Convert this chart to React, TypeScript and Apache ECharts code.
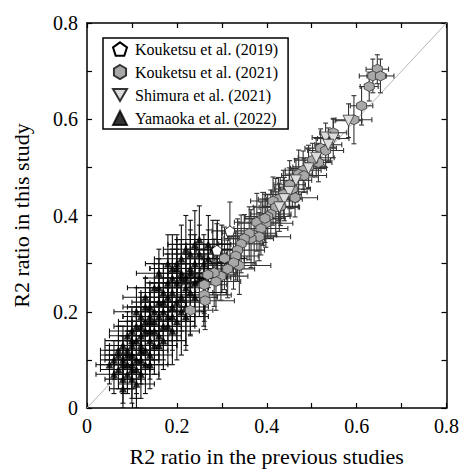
import React, { useEffect, useRef } from "react";
import * as echarts from "echarts";

// Yamaoka et al. (2022)
const yamX = [0.08,0.09,0.10,0.07,0.11,0.09,0.12,0.10,0.08,0.13,0.11,0.10,0.14,0.12,0.09,0.13,0.15,0.11,0.14,0.16,0.12,0.15,0.17,0.14,0.18,0.16,0.13,0.19,0.17,0.20,0.15,0.18,0.21,0.19,0.16,0.22,0.20,0.23,0.18,0.21,0.24,0.22,0.25,0.20,0.23,0.26,0.24,0.21,0.27,0.25,0.22,0.24,0.17,0.19,0.26,0.28,0.07,0.10,0.08,0.12,0.06,0.14,0.16,0.11,0.13,0.15,0.18,0.20,0.23,0.27,0.29,0.30,0.12,0.09,0.17,0.21,0.24,0.19,0.10,0.14,
  0.05,0.06,0.07,0.08,0.09,0.10,0.11,0.08,0.11,0.12,0.13,0.10,0.14,0.15,0.16,0.17,0.18,0.19,0.20,0.21,0.22,0.23,0.22,0.25,0.26,0.16,0.14,0.12,0.13,0.19];
const yamY = [0.10,0.07,0.09,0.11,0.08,0.12,0.10,0.06,0.13,0.12,0.14,0.11,0.09,0.15,0.15,0.16,0.13,0.17,0.18,0.15,0.19,0.20,0.17,0.21,0.19,0.22,0.23,0.21,0.24,0.18,0.25,0.26,0.23,0.27,0.28,0.25,0.29,0.28,0.30,0.31,0.30,0.33,0.32,0.30,0.32,0.30,0.34,0.28,0.31,0.35,0.21,0.26,0.14,0.16,0.27,0.33,0.08,0.13,0.06,0.07,0.10,0.11,0.19,0.20,0.18,0.16,0.23,0.26,0.29,0.34,0.33,0.31,0.12,0.09,0.20,0.27,0.23,0.24,0.16,0.14,
  0.09,0.07,0.12,0.09,0.11,0.08,0.10,0.04,0.05,0.13,0.09,0.14,0.16,0.18,0.13,0.22,0.17,0.19,0.22,0.20,0.27,0.24,0.19,0.27,0.24,0.25,0.19,0.17,0.21,0.29];
const yamXErr = [0.04,0.03,0.04,0.04,0.03,0.05,0.04,0.03,0.04,0.05,0.04,0.06,0.03,0.05,0.04,0.04,0.05,0.05,0.04,0.05,0.04,0.05,0.04,0.05,0.05,0.06,0.05,0.05,0.05,0.04,0.06,0.05,0.05,0.06,0.05,0.05,0.06,0.05,0.05,0.06,0.05,0.05,0.06,0.05,0.06,0.05,0.06,0.05,0.06,0.05,0.05,0.05,0.05,0.06,0.06,0.05,0.04,0.05,0.04,0.04,0.03,0.05,0.05,0.05,0.06,0.05,0.06,0.06,0.05,0.05,0.05,0.05,0.05,0.04,0.06,0.06,0.05,0.05,0.05,0.05,
  0.03,0.04,0.04,0.05,0.04,0.05,0.04,0.03,0.04,0.05,0.05,0.06,0.05,0.06,0.04,0.05,0.06,0.05,0.06,0.05,0.06,0.05,0.05,0.06,0.05,0.05,0.06,0.05,0.05,0.05];
const yamYErr = [0.03,0.04,0.05,0.03,0.06,0.04,0.05,0.05,0.04,0.05,0.05,0.04,0.05,0.06,0.05,0.05,0.06,0.04,0.06,0.05,0.05,0.06,0.07,0.05,0.06,0.06,0.04,0.07,0.06,0.08,0.05,0.06,0.07,0.06,0.05,0.07,0.06,0.08,0.06,0.07,0.06,0.07,0.06,0.06,0.07,0.06,0.07,0.07,0.06,0.07,0.08,0.07,0.06,0.07,0.07,0.06,0.04,0.05,0.05,0.05,0.04,0.05,0.06,0.05,0.05,0.06,0.06,0.07,0.08,0.06,0.06,0.07,0.05,0.05,0.06,0.07,0.06,0.06,0.05,0.06,
  0.04,0.04,0.05,0.06,0.07,0.06,0.07,0.04,0.05,0.06,0.06,0.05,0.07,0.06,0.07,0.08,0.08,0.07,0.08,0.09,0.07,0.09,0.07,0.08,0.07,0.06,0.06,0.06,0.06,0.07];

// Kouketsu et al. (2021)
const k21X = [0.646,0.636,0.653,0.628,0.611,0.594,0.548,0.520,0.531,0.515,0.502,0.493,0.481,0.471,0.483,0.457,0.451,0.463,0.437,0.426,0.414,0.431,0.420,0.409,0.402,0.391,0.398,0.378,0.396,0.387,0.372,0.383,0.365,0.361,0.350,0.343,0.335,0.331,0.339,0.326,0.313,0.306,0.298,0.287,0.283,0.269,0.261,0.261,0.263,0.230];
const k21Y = [0.704,0.690,0.690,0.668,0.628,0.599,0.572,0.540,0.535,0.510,0.515,0.501,0.494,0.486,0.483,0.455,0.464,0.437,0.444,0.434,0.430,0.419,0.417,0.403,0.398,0.393,0.384,0.386,0.394,0.373,0.359,0.356,0.352,0.363,0.352,0.341,0.328,0.316,0.296,0.302,0.289,0.311,0.274,0.263,0.281,0.277,0.256,0.235,0.223,0.203];
const k21XErr = [0.025,0.03,0.03,0.02,0.025,0.04,0.03,0.035,0.04,0.03,0.04,0.035,0.04,0.03,0.05,0.04,0.035,0.05,0.04,0.045,0.05,0.04,0.05,0.045,0.05,0.04,0.06,0.05,0.045,0.06,0.05,0.07,0.05,0.06,0.045,0.05,0.06,0.05,0.07,0.05,0.06,0.05,0.06,0.055,0.05,0.06,0.05,0.06,0.065,0.05];
const k21YErr = [0.03,0.035,0.035,0.03,0.04,0.05,0.03,0.04,0.035,0.04,0.035,0.045,0.04,0.05,0.035,0.04,0.05,0.04,0.05,0.045,0.05,0.04,0.06,0.05,0.045,0.055,0.05,0.06,0.05,0.055,0.06,0.05,0.06,0.055,0.05,0.06,0.065,0.05,0.06,0.055,0.06,0.065,0.05,0.06,0.07,0.06,0.06,0.055,0.06,0.05];

// Shimura et al. (2021)
const shiX = [0.582,0.531,0.548,0.537,0.510,0.465,0.450,0.439,0.428,0.493];
const shiY = [0.597,0.562,0.560,0.547,0.520,0.473,0.449,0.434,0.417,0.498];
const shiXErr = [0.03,0.03,0.035,0.03,0.04,0.035,0.04,0.04,0.045,0.04];
const shiYErr = [0.035,0.03,0.04,0.035,0.04,0.045,0.05,0.045,0.05,0.04];

// Kouketsu et al. (2019)
const k19X = [0.318,0.289];
const k19Y = [0.368,0.328];
const k19XErr = [0.04,0.045];
const k19YErr = [0.06,0.055];

const names = ["Kouketsu et al. (2019)", "Kouketsu et al. (2021)", "Shimura et al. (2021)", "Yamaoka et al. (2022)"];
const xTicks = ["0", "0.2", "0.4", "0.6", "0.8"];

const FONT = "Liberation Serif";

const PENTAGON = "path://M0,-10 L9.51,-3.09 L5.88,8.09 L-5.88,8.09 L-9.51,-3.09 Z";
const HEXAGON = "path://M0,-10 L8.66,-5 L8.66,5 L0,10 L-8.66,5 L-8.66,-5 Z";
const DOWNTRI = "path://M-10,-8 L10,-8 L0,9 Z";

function zip4(a: number[], b: number[], c: number[], d: number[]) {
  return a.map((v, i) => [v, b[i], c[i], d[i]]);
}
function zip2(a: number[], b: number[]) {
  return a.map((v, i) => [v, b[i]]);
}

function errSeries(data: number[][], color: string, z: number) {
  return {
    type: "custom",
    clip: true,
    z,
    silent: true,
    encode: { x: 0, y: 1 },
    data,
    renderItem: (params: any, api: any) => {
      const x = api.value(0), y = api.value(1), xe = api.value(2), ye = api.value(3);
      const l = api.coord([x - xe, y]);
      const r = api.coord([x + xe, y]);
      const t = api.coord([x, y + ye]);
      const b = api.coord([x, y - ye]);
      const c = 2.5;
      const st = { stroke: color, lineWidth: 1.1 };
      return {
        type: "group",
        children: [
          { type: "line", shape: { x1: l[0], y1: l[1], x2: r[0], y2: r[1] }, style: st },
          { type: "line", shape: { x1: l[0], y1: l[1] - c, x2: l[0], y2: l[1] + c }, style: st },
          { type: "line", shape: { x1: r[0], y1: r[1] - c, x2: r[0], y2: r[1] + c }, style: st },
          { type: "line", shape: { x1: t[0], y1: t[1], x2: b[0], y2: b[1] }, style: st },
          { type: "line", shape: { x1: t[0] - c, y1: t[1], x2: t[0] + c, y2: t[1] }, style: st },
          { type: "line", shape: { x1: b[0] - c, y1: b[1], x2: b[0] + c, y2: b[1] }, style: st },
        ],
      };
    },
  };
}

export default function App() {
  const ref = useRef<HTMLDivElement>(null);
  useEffect(() => {
    if (!ref.current) return;
    const chart = echarts.init(ref.current, null, { renderer: "svg" });
    const axisCommon = {
      min: 0,
      max: 0.8,
      interval: 0.1,
      axisLine: { show: true, onZero: false, lineStyle: { color: "#000", width: 1.5 } },
      axisTick: { show: true, inside: true, length: 5, lineStyle: { color: "#000", width: 1.2 } },
      splitLine: { show: false },
    };
    const labelFmt = (v: number) => {
      const k = Math.round(v * 10);
      return k % 2 === 0 ? xTicks[k / 2] : "";
    };
    chart.setOption({
      animation: false,
      backgroundColor: "#fff",
      textStyle: { fontFamily: FONT },
      grid: { left: 87, top: 23, right: 15, bottom: 63, containLabel: false },
      legend: {
        show: true,
        orient: "vertical",
        left: 103,
        top: 38,
        data: names,
        itemWidth: 14,
        itemHeight: 14,
        itemGap: 7,
        padding: [3, 10, 3, 9],
        borderColor: "#000",
        borderWidth: 1.5,
        backgroundColor: "#fff",
        textStyle: { fontFamily: FONT, fontSize: 16, color: "#000", padding: [0, 0, 0, 3] },
      },
      xAxis: [
        {
          type: "value", position: "bottom", ...axisCommon,
          axisLabel: { show: true, formatter: labelFmt, fontFamily: FONT, fontSize: 20, color: "#000", margin: 8 },
          name: "R2 ratio in the previous studies",
          nameLocation: "middle",
          nameGap: 37,
          nameTextStyle: { fontFamily: FONT, fontSize: 22, color: "#000" },
        },
        { type: "value", position: "top", ...axisCommon, axisLabel: { show: false } },
      ],
      yAxis: [
        {
          type: "value", position: "left", ...axisCommon,
          axisLabel: { show: true, formatter: labelFmt, fontFamily: FONT, fontSize: 20, color: "#000", margin: 9 },
          name: "R2 ratio in this study",
          nameLocation: "middle",
          nameGap: 55,
          nameTextStyle: { fontFamily: FONT, fontSize: 22, color: "#000" },
        },
        { type: "value", position: "right", ...axisCommon, axisLabel: { show: false } },
      ],
      series: [
        {
          type: "line",
          data: [[0, 0], [0.8, 0.8]],
          symbol: "none",
          silent: true,
          lineStyle: { color: "#b5b5b5", width: 1 },
          z: 1,
        },
        errSeries(zip4(k21X, k21Y, k21XErr, k21YErr), "#333", 2),
        errSeries(zip4(shiX, shiY, shiXErr, shiYErr), "#333", 2),
        errSeries(zip4(k19X, k19Y, k19XErr, k19YErr), "#333", 2),
        errSeries(zip4(yamX, yamY, yamXErr, yamYErr), "#111", 2),
        {
          name: names[3], type: "scatter", data: zip2(yamX, yamY), symbol: "triangle", symbolSize: 7,
          itemStyle: { color: "#000", borderColor: "#000", borderWidth: 0.5 }, z: 3,
        },
        {
          name: names[1], type: "scatter", data: zip2(k21X, k21Y), symbol: HEXAGON, symbolSize: 10,
          itemStyle: { color: "#a8a8a8", borderColor: "#333", borderWidth: 0.8, opacity: 1 }, z: 4,
        },
        {
          name: names[2], type: "scatter", data: zip2(shiX, shiY), symbol: DOWNTRI, symbolSize: 11,
          itemStyle: { color: "#dcdcdc", borderColor: "#333", borderWidth: 0.8, opacity: 1 }, z: 5,
        },
        {
          name: names[0], type: "scatter", data: zip2(k19X, k19Y), symbol: PENTAGON, symbolSize: 10,
          itemStyle: { color: "#fff", borderColor: "#000", borderWidth: 0.8, opacity: 1 }, z: 6,
        },
      ],
    });
    return () => chart.dispose();
  }, []);
  return <div ref={ref} style={{ position: "fixed", left: 0, top: 0, width: 462, height: 472 }} />;
}
